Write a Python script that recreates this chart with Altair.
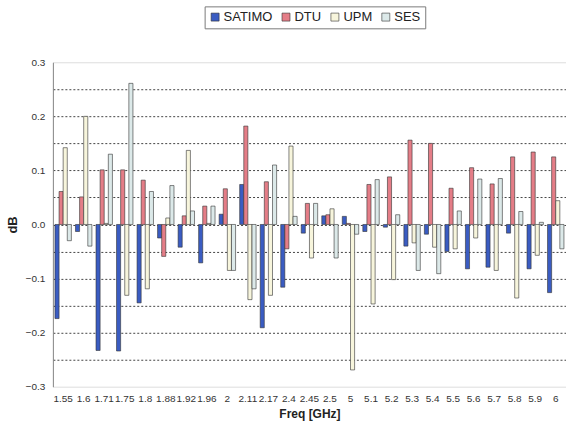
import altair as alt
import pandas as pd

# Frequency points (GHz) shown along the x axis
freqs = ["1.55", "1.6", "1.71", "1.75", "1.8", "1.88", "1.92", "1.96", "2",
         "2.11", "2.17", "2.4", "2.45", "2.5", "5", "5.1", "5.2", "5.3",
         "5.4", "5.5", "5.6", "5.7", "5.8", "5.9", "6"]

series_names = ["SATIMO", "DTU", "UPM", "SES"]
series_colors = ["#3a5cc2", "#e47d87", "#f7f5dc", "#dce9e9"]

# Deviation in dB per facility and frequency
satimo = [-0.174, -0.013, -0.233, -0.234, -0.145, -0.025, -0.042, -0.071, 0.019,
          0.074, -0.191, -0.116, -0.016, 0.016, 0.015, -0.013, -0.005, -0.040,
          -0.018, -0.050, -0.082, -0.079, -0.016, -0.082, -0.126]
dtu = [0.061, 0.051, 0.101, 0.101, 0.082, -0.059, 0.016, 0.034, 0.066,
       0.182, 0.079, -0.045, 0.039, 0.018, 0.002, 0.074, 0.088, 0.156,
       0.150, 0.067, 0.105, 0.075, 0.125, 0.134, 0.125]
upm = [0.142, 0.200, 0.002, -0.131, -0.119, 0.012, 0.137, 0.002, -0.085,
       -0.139, -0.131, 0.145, -0.062, 0.029, -0.269, -0.147, -0.102, -0.034,
       -0.042, -0.045, -0.025, -0.085, -0.136, -0.057, 0.044]
ses = [-0.030, -0.040, 0.130, 0.261, 0.061, 0.072, 0.025, 0.034, -0.085,
       -0.119, 0.110, 0.015, 0.039, -0.062, -0.018, 0.083, 0.018, -0.085,
       -0.091, 0.025, 0.084, 0.085, 0.024, 0.004, -0.045]

# Axis grid every 0.05 dB, labels every 0.1 dB
y_ticks = [-0.3, -0.25, -0.2, -0.15, -0.1, -0.05, 0.0, 0.05, 0.1, 0.15, 0.2, 0.25, 0.3]

rows = []
for name, vals in zip(series_names, [satimo, dtu, upm, ses]):
    for f, v in zip(freqs, vals):
        rows.append({"freq": f, "series": name, "value": v})
df = pd.DataFrame(rows)

FONT = "Liberation Sans"

chart = alt.Chart(df).mark_bar(stroke="#333333", strokeWidth=0.6).encode(
    x=alt.X(
        "freq:N",
        sort=freqs,
        scale=alt.Scale(paddingInner=0.2, paddingOuter=0.1),
        axis=alt.Axis(
            title="Freq [GHz]", labelAngle=0, ticks=False, domain=False, grid=False,
            labelFontSize=10, labelColor="#333333", labelPadding=7,
            titleFontSize=12, titleFontWeight="bold", titleColor="#222222",
            titlePadding=5,
        ),
    ),
    xOffset=alt.XOffset("series:N", sort=series_names,
                        scale=alt.Scale(paddingInner=0, paddingOuter=0)),
    y=alt.Y(
        "value:Q",
        scale=alt.Scale(domain=[-0.3, 0.3], nice=False, zero=False),
        axis=alt.Axis(
            title="dB", values=y_ticks,
            labelExpr="abs(round(datum.value*20)) % 2 == 1 ? '' : format(datum.value, '.1f')",
            ticks=False, domainColor="#8a8a8a", domainWidth=1,
            grid=True, gridDash=[2, 2], gridColor="#444444", gridWidth=1,
            gridOpacity={"condition": {"test": "abs(datum.value) > 0.29", "value": 0}, "value": 1},
            labelFontSize=10, labelColor="#333333", labelPadding=8,
            titleFontSize=13, titleFontWeight="bold", titleColor="#222222",
            titlePadding=6,
        ),
    ),
    color=alt.Color(
        "series:N",
        sort=series_names,
        scale=alt.Scale(domain=series_names, range=series_colors),
        legend=alt.Legend(
            title=None, orient="none", legendX=152, legendY=-56,
            direction="horizontal", symbolType="square", symbolSize=64,
            symbolStrokeColor="#333333", symbolStrokeWidth=0.6,
            labelFontSize=13, labelColor="#222222", labelOffset=2,
            columnPadding=7, padding=4, strokeColor="#7a7a7a",
        ),
    ),
).properties(
    width=514,
    height=325,
    padding={"left": 53, "top": 62, "right": 0, "bottom": 41},
    autosize=alt.AutoSizeParams(type="none"),
).configure_view(
    stroke="#c4c4c4", strokeWidth=1.5,
).configure(
    font=FONT,
)

chart.save("out.html", embed_options={"renderer": "svg", "actions": False})
